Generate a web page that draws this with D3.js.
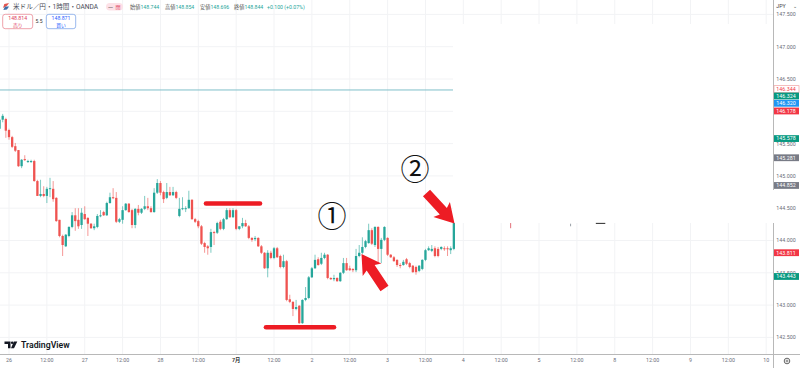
<!DOCTYPE html>
<html>
<head>
<meta charset="utf-8">
<script src="https://cdn.jsdelivr.net/npm/d3@7"></script>
<style>
html, body { margin: 0; padding: 0; background: #fff; }
svg { display: block; }
text { font-family: Roboto, "Noto Sans CJK JP", sans-serif; }
</style>
</head>
<body>
<section></section>
<script>
var w = 800;
var h = 368;

// hourly candles
var opens = [145.73,145.87,145.88,145.71,145.60,145.46,145.40,145.15,145.26,145.22,145.22,145.23,144.92,144.69,144.72,144.69,144.80,144.80,144.66,144.32,144.07,143.91,144.07,144.21,144.39,144.32,144.24,144.41,144.35,144.26,144.19,144.21,144.38,144.44,144.39,144.58,144.67,144.66,144.29,144.32,144.47,144.57,144.47,144.24,144.49,144.43,144.49,144.53,144.50,144.44,144.74,144.89,144.75,144.66,144.75,144.70,144.75,144.38,144.49,144.49,144.50,144.63,144.33,144.30,144.22,143.96,143.91,143.90,144.13,144.12,144.29,144.18,144.33,144.47,144.36,144.47,144.18,144.22,144.27,144.22,144.04,144.02,144.04,143.91,143.81,143.57,143.81,143.73,143.88,143.76,143.59,143.68,143.09,143.05,142.94,142.99,142.72,143.08,143.11,143.43,143.57,143.71,143.64,143.73,143.78,143.42,143.40,143.42,143.37,143.50,143.65,143.57,143.56,143.54,143.76,143.81,143.90,143.96,144.16,143.93,144.21,143.87,144.01,144.04,143.78,143.74,143.70,143.62,143.62,143.71,143.65,143.61,143.59,143.53,143.56,143.70,143.85,143.84,143.88,143.87,143.87,143.88,143.88,143.85,143.87];
var highs = [145.91,145.96,145.90,145.73,145.62,145.51,145.40,145.26,145.32,145.25,145.25,145.25,144.94,144.94,144.84,144.83,144.97,144.92,144.67,144.32,144.09,144.10,144.22,144.44,144.50,144.50,144.50,144.53,144.36,144.27,144.26,144.41,144.47,144.46,144.60,144.74,144.81,144.75,144.35,144.53,144.58,144.58,144.49,144.50,144.55,144.50,144.69,144.66,144.53,144.81,144.95,144.92,144.77,144.89,144.83,144.83,144.77,144.66,144.67,144.53,144.77,144.64,144.35,144.32,144.24,143.98,143.93,144.18,144.15,144.29,144.32,144.35,144.50,144.50,144.50,144.49,144.22,144.35,144.32,144.24,144.05,144.07,144.05,143.93,143.82,143.85,143.84,143.90,143.90,143.78,143.78,143.70,143.16,143.06,143.08,143.00,143.09,143.28,143.45,143.59,143.78,143.74,143.81,143.81,143.79,143.43,143.47,143.43,143.51,143.73,143.73,143.61,143.57,143.87,143.93,144.05,144.01,144.26,144.19,144.22,144.22,144.04,144.22,144.05,143.79,143.76,143.71,143.65,143.70,143.73,143.67,143.62,143.61,143.62,143.71,143.87,143.91,143.93,143.91,143.90,143.91,143.91,143.91,143.91,144.27];
var lows = [145.70,145.83,145.59,145.56,145.43,145.37,145.14,145.12,145.23,145.20,145.20,144.91,144.69,144.67,144.67,144.58,144.67,144.60,144.29,144.05,143.76,143.90,144.05,144.19,144.15,144.18,144.18,144.32,144.07,144.18,144.16,144.19,144.36,144.38,144.38,144.57,144.64,144.27,144.27,144.26,144.46,144.43,144.19,144.19,144.39,144.41,144.47,144.47,144.43,144.43,144.72,144.70,144.58,144.64,144.69,144.69,144.64,144.36,144.47,144.44,144.49,144.32,144.27,144.19,143.93,143.81,143.78,143.81,143.93,144.10,144.16,144.16,144.32,144.35,144.35,144.16,144.16,144.19,144.21,144.02,143.98,143.99,143.90,143.79,143.56,143.43,143.71,143.71,143.73,143.57,143.57,143.06,143.03,142.83,142.92,142.71,142.71,143.06,143.09,143.42,143.56,143.61,143.62,143.71,143.40,143.39,143.37,143.36,143.36,143.48,143.53,143.53,143.51,143.51,143.74,143.79,143.88,143.95,143.93,143.90,143.65,143.65,143.99,143.76,143.73,143.67,143.59,143.57,143.61,143.62,143.57,143.50,143.47,143.51,143.54,143.68,143.84,143.82,143.74,143.74,143.85,143.84,143.76,143.79,143.85];
var closes = [145.87,145.93,145.70,145.60,145.45,145.39,145.15,145.25,145.25,145.23,145.23,144.92,144.69,144.72,144.69,144.80,144.81,144.64,144.30,144.07,143.93,144.09,144.21,144.39,144.30,144.22,144.43,144.33,144.26,144.19,144.22,144.38,144.39,144.39,144.58,144.67,144.66,144.29,144.33,144.47,144.57,144.44,144.24,144.49,144.43,144.49,144.53,144.50,144.44,144.74,144.89,144.74,144.64,144.75,144.70,144.75,144.66,144.49,144.50,144.50,144.63,144.33,144.29,144.22,143.95,143.90,143.88,144.13,144.12,144.27,144.18,144.33,144.47,144.36,144.47,144.18,144.22,144.27,144.22,144.04,144.01,144.04,143.91,143.81,143.57,143.81,143.73,143.88,143.74,143.59,143.68,143.08,143.05,142.94,142.97,142.72,143.08,143.11,143.43,143.57,143.70,143.62,143.73,143.78,143.42,143.40,143.42,143.37,143.50,143.65,143.54,143.54,143.54,143.76,143.81,143.90,143.99,144.16,143.95,144.21,143.87,144.01,144.21,143.78,143.74,143.68,143.62,143.61,143.67,143.64,143.59,143.51,143.51,143.61,143.70,143.85,143.88,143.87,143.76,143.76,143.90,143.87,143.87,143.88,144.27];
var firstHour = -3; // first candle is 21:00 on the 25th

var dayLabels = ["26","12:00","27","12:00","28","12:00","7月","12:00","2","12:00","3","12:00","4","12:00","5","12:00","8","12:00","9","12:00","10"];
var priceTicks = [147.5,147,146.5,146,145.5,145,144.5,144,143.5,143,142.5];

// boxes on the price scale, the first few are pushed apart so they do not cover each other
var tagPrices = ["146.344","146.324","146.320","146.178","145.578","145.281","144.852","143.811","143.443"];
var tagValues = [146.344,146.237,146.124,146.005,145.578,145.281,144.852,143.811,143.443];
var tagFills = ["#fff","#089981","#2196f3","#f23645","#089981","#787b86","#787b86","#f23645","#089981"];

var alertPrice = 146.33;

// bits of an old drawing left under the white patch
var leftoverHours = [159, 178];
var leftoverTops = [144.27, 144.26];
var leftoverBottoms = [144.19, 144.22];
var leftoverColors = ["#e2707a", "#9aa0a8"];

var plotRight = 773.5;
var plotBottom = 354.5;
var patchLeft = 453;

var x = d3.scaleLinear().domain([0, 240]).range([9, 766.2]);
var y = d3.scaleLinear().domain([144, 147]).range([240.5, 46.7]);

var svg = d3.select("section")
            .append("svg")
            .attr("width", w)
            .attr("height", h)
            .style("background", "white");

//grid
var hoursList = dayLabels.map(function(d, i){ return i * 12; });
svg.append("g").selectAll("line")
    .data(hoursList)
    .enter().append("line")
    .attr("x1", function(d){ return x(d); })
    .attr("x2", function(d){ return x(d); })
    .attr("y1", 0)
    .attr("y2", plotBottom)
    .attr("stroke", "#f2f3f5");
svg.append("g").selectAll("line")
    .data(priceTicks)
    .enter().append("line")
    .attr("x1", 0)
    .attr("x2", plotRight)
    .attr("y1", function(d){ return y(d); })
    .attr("y2", function(d){ return y(d); })
    .attr("stroke", "#f2f3f5");

// the screenshot has been painted over with white here
svg.append("rect").attr("x", patchLeft).attr("y", 24).attr("width", plotRight + 1 - patchLeft).attr("height", 199).attr("fill", "#fff");

svg.append("g").selectAll("line")
    .data(leftoverHours)
    .enter().append("line")
    .attr("x1", function(d){ return x(d); })
    .attr("x2", function(d){ return x(d); })
    .attr("y1", function(d, i){ return y(leftoverTops[i]); })
    .attr("y2", function(d, i){ return y(leftoverBottoms[i]); })
    .attr("stroke", function(d, i){ return leftoverColors[i]; });
svg.append("line").attr("x1", x(186)).attr("x2", x(189)).attr("y1", y(144.265)).attr("y2", y(144.265))
    .attr("stroke", "#111").attr("stroke-width", 0.9);

//alert line
svg.append("line")
    .attr("x1", 0).attr("x2", patchLeft)
    .attr("y1", y(alertPrice)).attr("y2", y(alertPrice))
    .attr("stroke", "#7fbfc9")
    .attr("stroke-width", 1);

//candles
var candles = opens.map(function(d, i){
    return { hour: firstHour + i, o: d, h: highs[i], l: lows[i], c: closes[i] };
});
var upColor = "#26a69a";
var downColor = "#ef5350";
function candleColor(d){ return d.c >= d.o ? upColor : downColor; }

var groups = svg.append("g").selectAll("g")
    .data(candles)
    .enter().append("g");
groups.append("line")
    .attr("x1", function(d){ return x(d.hour); })
    .attr("x2", function(d){ return x(d.hour); })
    .attr("y1", function(d){ return y(d.h); })
    .attr("y2", function(d){ return y(d.l); })
    .attr("stroke", candleColor)
    .attr("stroke-opacity", 0.6);
groups.append("rect")
    .attr("x", function(d){ return x(d.hour) - 1.15; })
    .attr("width", 2.3)
    .attr("y", function(d){ return y(Math.max(d.o, d.c)); })
    .attr("height", function(d){ return Math.max(1, Math.abs(y(d.o) - y(d.c))); })
    .attr("fill", candleColor);

//price axis, the white patch took a piece out of it
svg.append("line").attr("x1", plotRight).attr("x2", plotRight).attr("y1", 0).attr("y2", 190).attr("stroke", "#b8b8b8");
svg.append("line").attr("x1", plotRight).attr("x2", plotRight).attr("y1", 223).attr("y2", h).attr("stroke", "#b8b8b8");
svg.append("line").attr("x1", 0).attr("x2", w).attr("y1", plotBottom).attr("y2", plotBottom).attr("stroke", "#b8b8b8");

// 146.000 sits right under the red box in the picture, so no label for it
svg.append("g").selectAll("text")
    .data(priceTicks.filter(function(d){ return d != 146; }))
    .enter().append("text")
    .attr("x", 786)
    .attr("y", function(d){ return y(d) + 1.9; })
    .attr("text-anchor", "middle")
    .attr("font-size", 5.3)
    .attr("fill", "#6a6d78")
    .text(function(d){ return d.toFixed(3); });

var tags = svg.append("g").selectAll("g")
    .data(tagPrices)
    .enter().append("g");
tags.append("rect")
    .attr("x", 774)
    .attr("y", function(d, i){ return y(tagValues[i]) - 3.4; })
    .attr("width", 25)
    .attr("height", 6.8)
    .attr("fill", function(d, i){ return tagFills[i]; })
    .attr("stroke", function(d, i){ return i == 0 ? "#f0a0a0" : "none"; })
    .attr("stroke-width", 0.7);
tags.append("text")
    .attr("x", 786)
    .attr("y", function(d, i){ return y(tagValues[i]) + 1.9; })
    .attr("text-anchor", "middle")
    .attr("font-size", 5.3)
    .attr("fill", function(d, i){ return i == 0 ? "#f23645" : "#fff"; })
    .text(function(d){ return d; });

svg.append("rect").attr("x", 774).attr("y", 0).attr("width", 26).attr("height", 11).attr("fill", "#fff");
svg.append("text").attr("x", 781).attr("y", 8).attr("text-anchor", "middle")
    .attr("font-size", 5.3).attr("fill", "#444").text("JPY");
svg.append("text").attr("x", 795).attr("y", 8).attr("text-anchor", "middle")
    .attr("font-size", 5).attr("fill", "#444").text("⌄");

//time axis
svg.append("g").selectAll("text")
    .data(dayLabels)
    .enter().append("text")
    .attr("x", function(d, i){ return x(hoursList[i]); })
    .attr("y", 362)
    .attr("text-anchor", "middle")
    .attr("font-size", 5.3)
    .attr("fill", function(d){ return d == "7月" ? "#333" : "#6a6d78"; })
    .attr("font-weight", function(d){ return d == "7月" ? "bold" : "normal"; })
    .text(function(d){ return d; });

// settings button
svg.append("circle").attr("cx", 787).attr("cy", 361).attr("r", 2.8)
    .attr("fill", "none").attr("stroke", "#555").attr("stroke-width", 0.9);
svg.append("circle").attr("cx", 787).attr("cy", 361).attr("r", 1)
    .attr("fill", "none").attr("stroke", "#555").attr("stroke-width", 0.7);

//top legend
var legend = svg.append("g");
legend.append("path").attr("d", "M3 8 L4.3 4 L9 3 L7 5.7 Z").attr("fill", "#e2554f");
legend.append("path").attr("d", "M3.3 10 L5 6.5 L9 6.5 L7 9.5 Z").attr("fill", "#3c6ea8");
legend.append("text").attr("x", 13).attr("y", 9.2)
    .attr("font-size", 6.6).attr("fill", "#4a4d58").text("米ドル／円・1時間・OANDA");
legend.append("rect").attr("x", 106).attr("y", 3).attr("width", 17).attr("height", 7.5).attr("rx", 3.7).attr("fill", "#fde1e7");
legend.append("text").attr("x", 108).attr("y", 8.8).attr("font-size", 5).attr("fill", "#444").text("一");
legend.append("text").attr("x", 115.5).attr("y", 8.8).attr("font-size", 5).attr("fill", "#e0405a").text("閉");

var ohlcLabels = ["始値", "高値", "安値", "終値"];
var ohlcValues = ["148.744", "148.854", "148.696", "148.844"];
var ohlcX = [130, 165, 200, 234];
ohlcLabels.forEach(function(d, i){
    var t = legend.append("text").attr("x", ohlcX[i]).attr("y", 9).attr("font-size", 5.2);
    t.append("tspan").attr("fill", "#555").text(d);
    t.append("tspan").attr("fill", "#26a69a").text(ohlcValues[i]);
});
legend.append("text").attr("x", 267).attr("y", 9).attr("font-size", 5.2).attr("fill", "#26a69a").text("+0.100 (+0.07%)");

// sell / buy boxes
legend.append("rect").attr("x", 2.7).attr("y", 14.3).attr("width", 30).attr("height", 14.4).attr("rx", 2.5)
    .attr("fill", "#fff").attr("stroke", "#ea8a95").attr("stroke-width", 0.8);
legend.append("text").attr("x", 17.7).attr("y", 20.2).attr("text-anchor", "middle").attr("font-size", 5.2).attr("fill", "#e0405a").text("148.814");
legend.append("text").attr("x", 17.7).attr("y", 27.2).attr("text-anchor", "middle").attr("font-size", 4.8).attr("fill", "#e0405a").text("売り");
legend.append("text").attr("x", 39).attr("y", 23.3).attr("text-anchor", "middle").attr("font-size", 5).attr("fill", "#333").text("5.5");
legend.append("rect").attr("x", 46.3).attr("y", 14.3).attr("width", 29.4).attr("height", 14.4).attr("rx", 2.5)
    .attr("fill", "#fff").attr("stroke", "#7fa6e8").attr("stroke-width", 0.8);
legend.append("text").attr("x", 61).attr("y", 20.2).attr("text-anchor", "middle").attr("font-size", 5.2).attr("fill", "#2962ff").text("148.871");
legend.append("text").attr("x", 61).attr("y", 27.2).attr("text-anchor", "middle").attr("font-size", 4.8).attr("fill", "#2962ff").text("買い");

//watermark logo
var logo = svg.append("g");
logo.append("path").attr("d", "M4.5 341.5 H10.5 V348.3 H8 V344 H4.5 Z M14 348.3 L17.3 341.5 H13.9 L11 348.3 Z").attr("fill", "#131722");
logo.append("circle").attr("cx", 12.2).attr("cy", 342.8).attr("r", 1.3).attr("fill", "#131722");
logo.append("text").attr("x", 21).attr("y", 348.3).attr("font-family", "Inter, sans-serif").attr("font-weight", 600)
    .attr("font-size", 8.7).attr("fill", "#131722").text("TradingView");

//hand drawn notes on top of the chart
var markRed = "#ed1c24";
var notes = svg.append("g");
notes.append("line").attr("x1", 206).attr("x2", 260).attr("y1", 203.5).attr("y2", 203.5)
    .attr("stroke", markRed).attr("stroke-width", 4.6).attr("stroke-linecap", "round");
notes.append("line").attr("x1", 266).attr("x2", 334).attr("y1", 327.3).attr("y2", 327.3)
    .attr("stroke", markRed).attr("stroke-width", 4.6).attr("stroke-linecap", "round");

function arrow(tipX, tipY, tailX, tailY){
    var a = Math.atan2(tailY - tipY, tailX - tipX);
    var len = Math.hypot(tailX - tipX, tailY - tipY);
    var pts = [[0,0],[19,-11.2],[16.5,-4.8],[len,-4.8],[len,4.8],[16.5,4.8],[19,11.2]].map(function(p){
        return [tipX + p[0]*Math.cos(a) - p[1]*Math.sin(a), tipY + p[0]*Math.sin(a) + p[1]*Math.cos(a)];
    });
    notes.append("polygon").attr("points", pts.join(" ")).attr("fill", markRed);
}
arrow(361.5, 254, 384.5, 288.5);
arrow(454.5, 223.5, 426.5, 193);

notes.append("text").attr("x", 332).attr("y", 227).attr("text-anchor", "middle").attr("font-family", "Noto Sans CJK JP").attr("font-size", 29).attr("fill", "#111").text("①");
notes.append("text").attr("x", 415).attr("y", 180).attr("text-anchor", "middle").attr("font-family", "Noto Sans CJK JP").attr("font-size", 29).attr("fill", "#111").text("②");
</script>
</body>
</html>
